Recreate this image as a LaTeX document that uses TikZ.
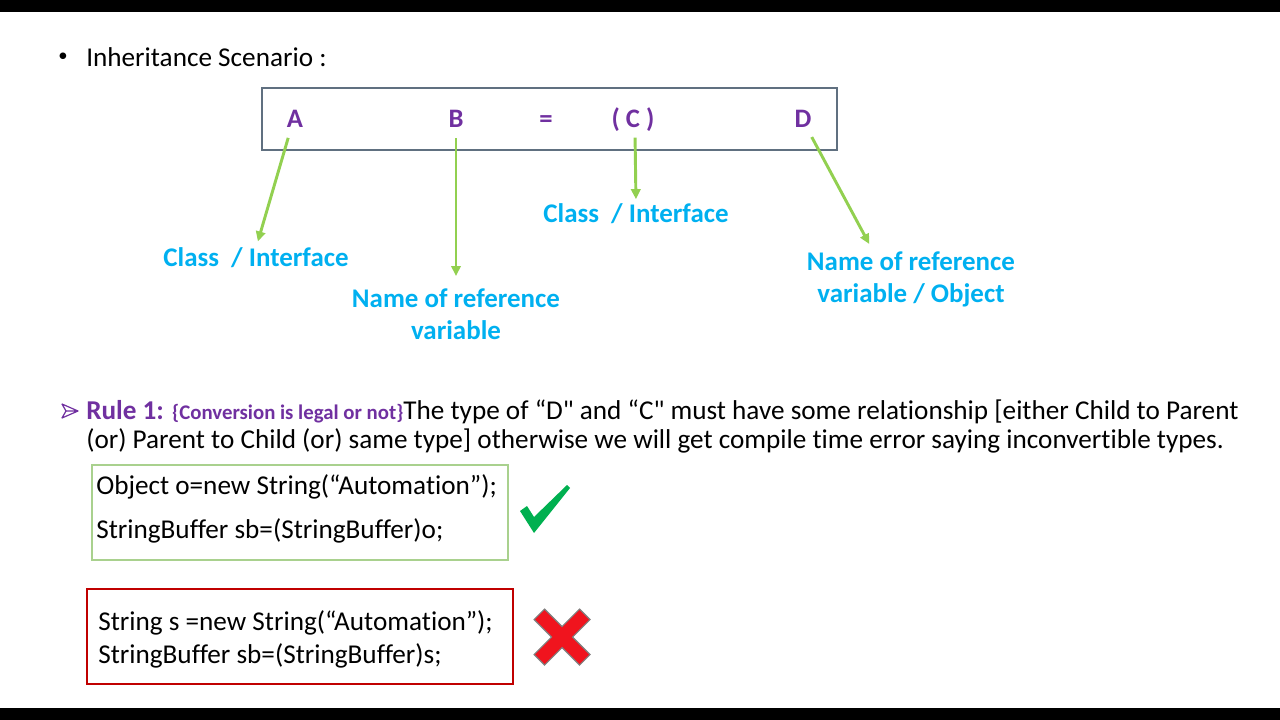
\documentclass[tikz,border=0pt]{standalone}
\usepackage{fontspec}
\setmainfont{Carlito}[Ligatures={TeXOff,NoCommon}]
\usepackage{tikz}
\usetikzlibrary{arrows.meta,positioning}
\definecolor{SlidePurple}{RGB}{112,48,160}
\definecolor{SlideCyan}{RGB}{0,176,240}
\definecolor{ArrowGreen}{RGB}{146,208,80}
\definecolor{FrameGrey}{RGB}{96,112,128}
\definecolor{OkGreen}{RGB}{169,209,142}
\definecolor{TickGreen}{RGB}{0,176,80}
\definecolor{BadRed}{RGB}{192,0,0}
\definecolor{CrossRed}{RGB}{240,20,30}
\tikzset{
  letter/.style={font=\fontsize{20}{24}\selectfont\bfseries,text=SlidePurple,
    inner sep=0pt,anchor=base},
  role/.style={font=\fontsize{20.2}{24}\selectfont\bfseries,text=SlideCyan,
    inner sep=0pt,anchor=base,align=center},
  pointer/.style={-{Triangle[length=7.5pt,width=7pt]},line width=2.2pt,ArrowGreen},
  body/.style={font=\fontsize{20.4}{21.75}\selectfont,inner sep=0pt,
    anchor=base west,align=left},
  code/.style={font=\fontsize{20.4}{24}\selectfont,inner sep=0pt,
    anchor=base west,align=left}
}

\begin{document}
\begin{tikzpicture}[x=0.75pt,y=-0.75pt]
\useasboundingbox (0,0) rectangle (1280,720);
\fill[black] (0,0) rectangle (1280,12);
\fill[black] (0,708) rectangle (1280,720);

\node[body,font=\fontsize{14}{16}\selectfont] (dot) at (58,62) {•};
\node[body] (title) at (86,67) {Inheritance Scenario :};

\node[draw=FrameGrey,line width=1.5pt,minimum width=431.25pt,
  minimum height=46.5pt] (frame) at (549.5,119) {};
\node[letter] (A) at (295,128) {A};
\node[letter] (B) at (456,128) {B};
\node[letter] (eq) at (546,128) {=};
\node[letter] (C) at (633,128) {( C )};
\node[letter] (D) at (803,128) {D};

\node[role] (clsA) at (256,267) {Class\ \ / Interface};
\node[role] (refB) at (456,339) {Name of reference\\variable};
\node[role] (clsC) at (636,223) {Class\ \ / Interface};
\node[role] (refD) at (911,302) {Name of reference\\variable / Object};

\draw[pointer,shorten <=7.5pt,shorten >=5pt] ([xshift=-3pt]A.south) -- (clsA.north);
\draw[pointer,shorten <=7.5pt,shorten >=9pt] (B.south) -- (refB.north);
\draw[pointer,shorten <=4pt,shorten >=3.5pt] ([xshift=1.5pt]C.south) -- (clsC.north);
\draw[pointer,shorten <=7.5pt,shorten >=6pt] ([xshift=3pt]D.south) -- ([xshift=-28.5pt]refD.north);

\draw[SlidePurple,line width=0.9pt,line join=round]
  (62,404) -- (78,411) -- (62,418) -- (66,411) -- cycle (66,411) -- (78,411);
\node[body] (rule) at (86,448) {\textcolor{SlidePurple}{\bfseries Rule 1:
  {\fontsize{15.6}{18}\selectfont\{Conversion is legal or not\}}}The type of “D" and “C" must have some relationship [either Child to Parent\\(or) Parent to Child (or) same type] otherwise we will get compile time error saying inconvertible types.};

\draw[OkGreen,line width=1pt] (92,465) rectangle (508,560);
\node[code] (okcode) at (96,538) {Object o=new String(“Automation”);\\[9pt]StringBuffer sb=(StringBuffer)o;};
\draw[BadRed,line width=1pt] (87,589) rectangle (513,684);
\node[code] (badcode) at (98,663) {String s =new String(“Automation”);\\[0.75pt]StringBuffer sb=(StringBuffer)s;};

\fill[TickGreen] (520,511) -- (527,506) -- (534,517) -- (567,485) -- (570,488)
  -- (534,533) -- cycle;
\filldraw[fill=CrossRed,draw=gray,line width=0.8pt,shift={(562,637)}]
  (0,-10.5) -- (17.5,-28) -- (28,-17.5) -- (10.5,0) -- (28,17.5) -- (17.5,28)
  -- (0,10.5) -- (-17.5,28) -- (-28,17.5) -- (-10.5,0) -- (-28,-17.5)
  -- (-17.5,-28) -- cycle;

\end{tikzpicture}
\end{document}
